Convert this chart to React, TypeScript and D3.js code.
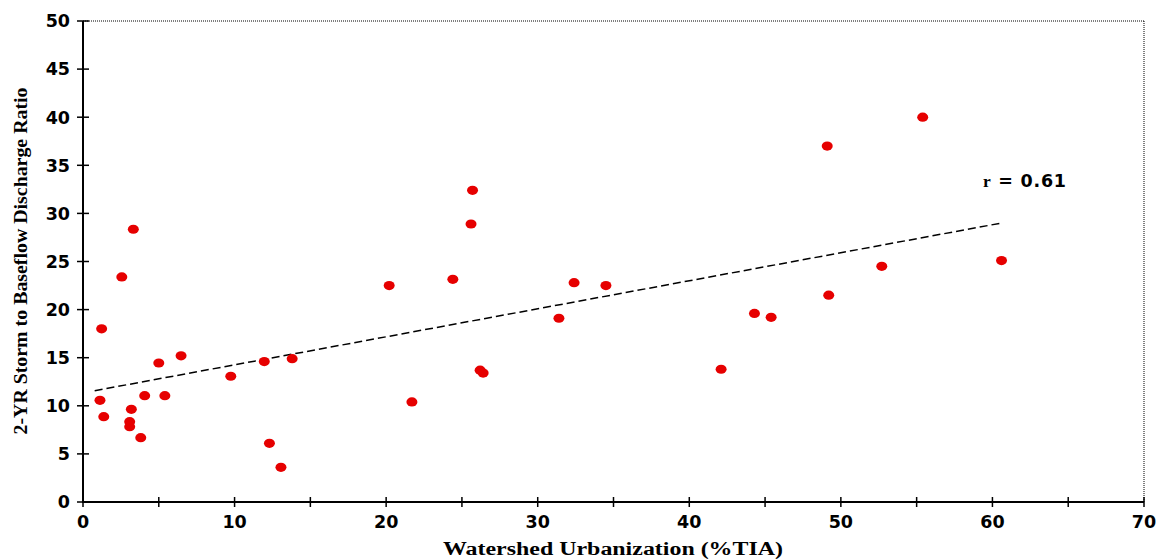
import React from "react";
import * as d3 from "d3";

const tiaValues = [1.12, 1.37, 1.23, 2.56, 3.32, 3.19, 3.08, 3.08, 3.81, 4.07, 5.0, 5.4, 6.47, 9.75, 11.96, 12.3, 13.06, 13.8, 20.2, 21.7, 24.4, 25.6, 25.7, 26.2, 26.4, 31.4, 32.4, 34.5, 42.1, 44.3, 45.4, 49.1, 49.2, 52.7, 55.4, 60.6];
const ratioValues = [10.57, 8.87, 18.0, 23.4, 28.35, 9.63, 8.35, 7.83, 6.69, 11.05, 14.45, 11.05, 15.2, 13.07, 14.6, 6.1, 3.6, 14.9, 22.5, 10.4, 23.15, 28.9, 32.4, 13.7, 13.4, 19.1, 22.8, 22.5, 13.8, 19.6, 19.2, 37.0, 21.5, 24.5, 40.0, 25.1];
const trendX = [0.77, 60.5];
const trendY = [11.57, 28.97];
const xTicks = [0, 5, 10, 15, 20, 25, 30, 35, 40, 45, 50, 55, 60, 65, 70];
const xTickLabels = ["0", "", "10", "", "20", "", "30", "", "40", "", "50", "", "60", "", "70"];
const yTicks = [0, 5, 10, 15, 20, 25, 30, 35, 40, 45, 50];
const xTitle = "Watershed Urbanization (%TIA)";
const yTitle = "2-YR Storm to Baseflow Discharge Ratio";

export default function App() {
  const W = 1158, H = 560;
  const x = d3.scaleLinear().domain([0, 70]).range([83, 1144]);
  const y = d3.scaleLinear().domain([0, 50]).range([502, 21]);
  const pts = tiaValues.map((v, i) => [v, ratioValues[i]] as [number, number]);
  const line = d3.line<[number, number]>().x(d => x(d[0])).y(d => y(d[1]));
  const trend = trendX.map((v, i) => [v, trendY[i]] as [number, number]);
  const tickFont = "'DejaVu Sans', Verdana, sans-serif";
  const titleFont = "'Liberation Serif', 'DejaVu Serif', serif";
  return (
    <svg width={W} height={H} style={{ position: "absolute", left: 0, top: 0, background: "#fff" }}>
      <rect x={0} y={0} width={W} height={H} fill="#fff" />
      <line x1={x(0)} x2={x(70)} y1={y(50)} y2={y(50)} stroke="#000" strokeWidth={1} strokeDasharray="1,1" />
      <line x1={x(70)} x2={x(70)} y1={y(50)} y2={y(0)} stroke="#000" strokeWidth={1} strokeDasharray="1,1" />
      <line x1={x(0)} x2={x(0)} y1={y(50)} y2={y(0) + 1} stroke="#000" strokeWidth={2} />
      <line x1={x(0)} x2={x(70)} y1={y(0)} y2={y(0)} stroke="#000" strokeWidth={2} />
      {yTicks.map(t => (
        <g key={"y" + t}>
          <line x1={x(0) - 6} x2={x(0) + 6} y1={y(t)} y2={y(t)} stroke="#000" strokeWidth={1.5} />
          <text x={x(0) - 13} y={y(t)} dy="0.36em" textAnchor="end" fontFamily={tickFont} fontWeight="bold" fontSize={17.5} fill="#000">{t}</text>
        </g>
      ))}
      {xTicks.map((t, i) => (
        <g key={"x" + t}>
          <line x1={x(t)} x2={x(t)} y1={y(0) - 5} y2={y(0) + 5} stroke="#000" strokeWidth={1.5} />
          {xTickLabels[i] && (
            <text x={x(t)} y={528} textAnchor="middle" fontFamily={tickFont} fontWeight="bold" fontSize={17.5} fill="#000">{xTickLabels[i]}</text>
          )}
        </g>
      ))}
      <path d={line(trend) || ""} fill="none" stroke="#000" strokeWidth={1.5} strokeDasharray="8,4" />
      {pts.map((p, i) => (
        <ellipse key={i} cx={x(p[0])} cy={y(p[1])} rx={5.5} ry={4.6} fill="#e60000" />
      ))}
      <text x={983} y={187} fontFamily={tickFont} fontWeight="bold" fontSize={17.5} textLength={83} lengthAdjust="spacing" fill="#000">
        <tspan fontFamily={titleFont}>r</tspan> = 0.61
      </text>
      <text x={613} y={555} textAnchor="middle" fontFamily={titleFont} fontWeight="bold" fontSize={18} textLength={340} lengthAdjust="spacingAndGlyphs" fill="#000">{xTitle}</text>
      <text transform={`translate(27,261) rotate(-90)`} textAnchor="middle" fontFamily={titleFont} fontWeight="bold" fontSize={18} textLength={347} lengthAdjust="spacingAndGlyphs" fill="#000">{yTitle}</text>
    </svg>
  );
}
